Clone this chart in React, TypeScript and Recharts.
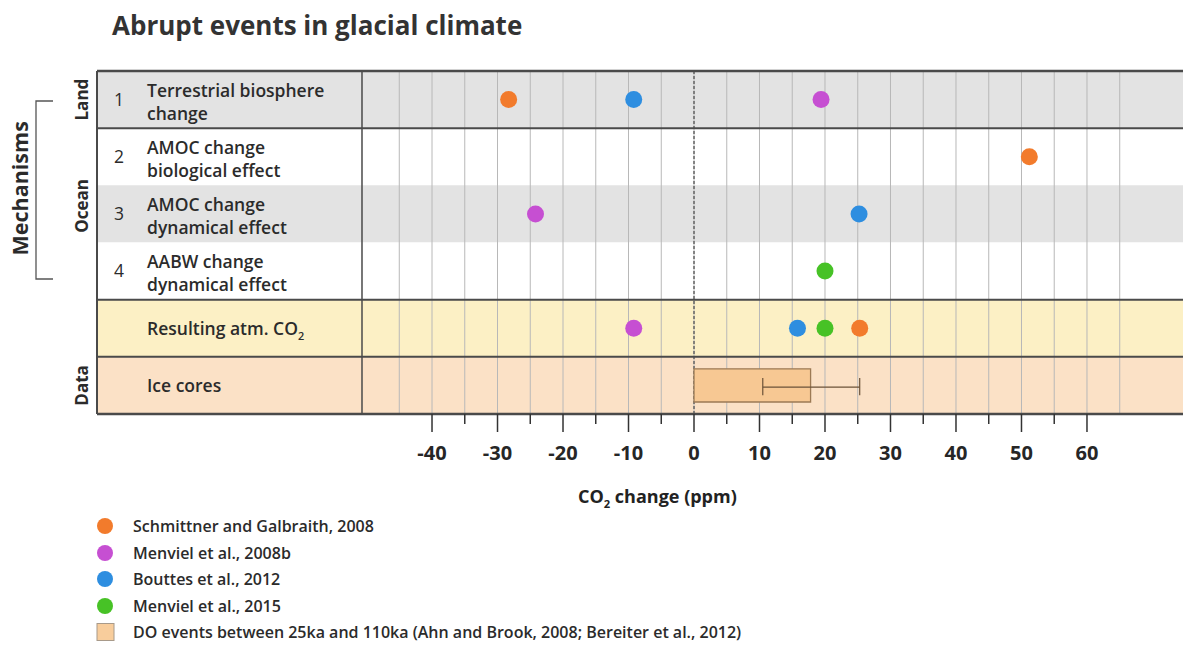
import { ComposedChart, Scatter, XAxis, YAxis, ReferenceArea, ReferenceLine, Legend } from 'recharts';

const FONT = '"Open Sans", "Noto Sans", sans-serif';
const INK = '#2b2b2b';

// rows of the table, top to bottom (row index = y value)
const rowNumbers = ['1', '2', '3', '4', '', ''];
const rowTexts = [
  ['Terrestrial biosphere', 'change'],
  ['AMOC change', 'biological effect'],
  ['AMOC change', 'dynamical effect'],
  ['AABW change', 'dynamical effect'],
  ['Resulting atm. CO₂'],
  ['Ice cores'],
];
const rowFills = ['#e3e3e3', '#ffffff', '#e3e3e3', '#ffffff', '#fcf0c5', '#fbe1c6'];

const groups = [
  { name: 'Land', from: 0, to: 0 },
  { name: 'Ocean', from: 1, to: 3 },
  { name: 'Data', from: 5, to: 5 },
];

// CO2 change (ppm) per model study
const schmittner = [{ co2: -28.3, row: 0 }, { co2: 51.2, row: 1 }, { co2: 25.3, row: 4 }];
const menviel2008 = [{ co2: 19.4, row: 0 }, { co2: -24.2, row: 2 }, { co2: -9.2, row: 4 }];
const bouttes = [{ co2: -9.2, row: 0 }, { co2: 25.2, row: 2 }, { co2: 15.8, row: 4 }];
const menviel2015 = [{ co2: 20.0, row: 3 }, { co2: 20.0, row: 4 }];

const studies = [
  { name: 'Schmittner and Galbraith, 2008', color: '#f27b2c', data: schmittner },
  { name: 'Menviel et al., 2008b', color: '#c64fd2', data: menviel2008 },
  { name: 'Bouttes et al., 2012', color: '#2e8ee0', data: bouttes },
  { name: 'Menviel et al., 2015', color: '#47c226', data: menviel2015 },
];

// ice core data (DO events)
const iceCoreRow = 5;
const iceCoreBox = [0, 17.8];
const iceCoreWhisker = [10.5, 25.3];
const iceCoreLabel = 'DO events between 25ka and 110ka (Ahn and Brook, 2008; Bereiter et al., 2012)';

const gridTicks = [-45, -40, -35, -30, -25, -20, -15, -10, -5, 0, 5, 10, 15, 20, 25, 30, 35, 40, 45, 50, 55, 60, 65];
const axisTicks = [-40, -35, -30, -25, -20, -15, -10, -5, 0, 5, 10, 15, 20, 25, 30, 35, 40, 45, 50, 55, 60];
const labelTicks = [-40, -30, -20, -10, 0, 10, 20, 30, 40, 50, 60];

// x domain covers the label column too
const xMin = -91.15;
const xMax = 74.66;
const labelEdge = -50.69;

const BORDER = '#4a4a4a';
const ROW_FS = 17.5;

function withSub(text: string, size: number) {
  const parts = text.split('₂');
  if (parts.length === 1) return text;
  return (
    <>
      {parts[0]}
      <tspan fontSize={size * 0.62} dy={5}>2</tspan>
      <tspan dy={-5}>{parts[1]}</tspan>
    </>
  );
}

const rowLabel = (i: number) => (props: any) => {
  const { x, y, height } = props.viewBox;
  const cy = y + height / 2;
  const lines = rowTexts[i];
  return (
    <g fontFamily={FONT} fill={INK}>
      <text x={x + 17} y={cy + 6} fontSize={ROW_FS}>{rowNumbers[i]}</text>
      {lines.length === 2 ? (
        <>
          <text x={x + 50} y={cy - 3} fontSize={ROW_FS} fontWeight={600}>{lines[0]}</text>
          <text x={x + 50} y={cy + 20} fontSize={ROW_FS} fontWeight={600}>{lines[1]}</text>
        </>
      ) : (
        <text x={x + 50} y={cy + 7} fontSize={ROW_FS} fontWeight={600}>{withSub(lines[0], ROW_FS)}</text>
      )}
    </g>
  );
};

const groupLabel = (name: string) => (props: any) => {
  const { x, y, height } = props.viewBox;
  const lx = x - 15;
  const ly = y + height / 2 - (name === 'Ocean' ? 8 : 0);
  return (
    <text x={lx} y={ly} transform={`rotate(-90, ${lx}, ${ly})`} textAnchor="middle" dominantBaseline="central"
      fontFamily={FONT} fontSize={17} fontWeight={700} fill={INK}>{name}</text>
  );
};

const mechanismsLabel = (props: any) => {
  const { x, y, height } = props.viewBox;
  const lx = x - 77;
  const ly = y + height / 2 + 3;
  return (
    <g>
      <text x={lx} y={ly} transform={`rotate(-90, ${lx}, ${ly})`} textAnchor="middle" dominantBaseline="central"
        fontFamily={FONT} fontSize={21.5} fontWeight={700} fill={INK}>Mechanisms</text>
      <polyline points={`${x - 44},${y + 30} ${x - 61},${y + 30} ${x - 61},${y + 208} ${x - 44},${y + 208}`}
        fill="none" stroke="#555" strokeWidth={1.3} />
    </g>
  );
};

const renderTick = (props: any) => {
  const { x, y, payload } = props;
  const v = payload.value;
  if (!axisTicks.includes(v)) return <g />;
  const major = labelTicks.includes(v);
  return (
    <g>
      <line x1={x} x2={x} y1={y} y2={y + (major ? 18 : 10)} stroke="#333" strokeWidth={1.5} />
      {major && (
        <text x={x} y={y + 46} textAnchor="middle" fontFamily={FONT} fontSize={20} fontWeight={700} fill="#262626">{v}</text>
      )}
    </g>
  );
};

const renderAxisTitle = (props: any) => {
  const { x, y } = props.viewBox;
  return (
    <text x={x + 481} y={y + 89} fontFamily={FONT} fontSize={18} fontWeight={700} fill="#222">
      {withSub('CO₂ change (ppm)', 18)}
    </text>
  );
};

const renderLegend = () => (
  <div style={{ fontFamily: FONT, fontSize: 16, fontWeight: 600, color: INK }}>
    {studies.map((s) => (
      <div key={s.name} style={{ display: 'flex', alignItems: 'center', height: 26.5 }}>
        <svg width={20} height={20}><circle cx={10} cy={10} r={8} fill={s.color} /></svg>
        <span style={{ marginLeft: 18 }}>{s.name}</span>
      </div>
    ))}
    <div style={{ display: 'flex', alignItems: 'center', height: 26.5 }}>
      <svg width={20} height={20}><rect x={2} y={1.5} width={17} height={17} fill="#f8cd9c" stroke="#a89a8a" /></svg>
      <span style={{ marginLeft: 18 }}>{iceCoreLabel}</span>
    </div>
  </div>
);

export default function App() {
  return (
    <div style={{ position: 'fixed', left: 0, top: 0, width: 1183, height: 664, overflow: 'hidden', background: '#fff' }}>
      <div style={{ position: 'absolute', left: 112, top: 12, fontFamily: FONT, fontSize: 26, fontWeight: 700, color: '#333', lineHeight: '26px', whiteSpace: 'nowrap' }}>
        Abrupt events in glacial climate
      </div>
      <ComposedChart width={1183} height={664} margin={{ top: 71, right: 0, left: 97, bottom: 190 }}>
        <XAxis type="number" dataKey="co2" domain={[xMin, xMax]} allowDataOverflow ticks={gridTicks} interval={0}
          tick={renderTick} tickLine={false} axisLine={false} tickSize={0} tickMargin={0} height={60} label={renderAxisTitle} />
        <YAxis type="number" dataKey="row" domain={[-0.5, 5.5]} reversed hide allowDataOverflow />

        {rowFills.map((fill, i) => (
          <ReferenceArea key={`row${i}`} x1={xMin} x2={xMax} y1={i - 0.5} y2={i + 0.5} fill={fill} fillOpacity={1}
            stroke="none" ifOverflow="visible" zIndex={1} label={rowLabel(i)} />
        ))}
        {groups.map((g) => (
          <ReferenceArea key={g.name} x1={xMin} x2={labelEdge} y1={g.from - 0.5} y2={g.to + 0.5} fill="none"
            stroke="none" ifOverflow="visible" zIndex={1} label={groupLabel(g.name)} />
        ))}
        <ReferenceArea x1={xMin} x2={labelEdge} y1={-0.5} y2={3.5} fill="none" stroke="none" ifOverflow="visible"
          zIndex={1} label={mechanismsLabel} />

        {gridTicks.map((t) => (
          <ReferenceLine key={`g${t}`} x={t} stroke="#b8b8b8" strokeWidth={1} ifOverflow="visible" zIndex={2} />
        ))}
        <ReferenceLine x={0} stroke="#555" strokeWidth={1.3} strokeDasharray="3 2" ifOverflow="visible" zIndex={3} />

        <ReferenceLine y={-0.5} stroke={BORDER} strokeWidth={2.5} ifOverflow="visible" zIndex={4} />
        <ReferenceLine y={0.5} stroke={BORDER} strokeWidth={2} ifOverflow="visible" zIndex={4} />
        <ReferenceLine y={3.5} stroke={BORDER} strokeWidth={2} ifOverflow="visible" zIndex={4} />
        <ReferenceLine y={4.5} stroke={BORDER} strokeWidth={2} ifOverflow="visible" zIndex={4} />
        <ReferenceLine y={5.5} stroke={BORDER} strokeWidth={2.5} ifOverflow="visible" zIndex={4} />
        <ReferenceLine x={xMin} stroke={BORDER} strokeWidth={2} ifOverflow="visible" zIndex={4} />
        <ReferenceLine x={labelEdge} stroke={BORDER} strokeWidth={1.5} ifOverflow="visible" zIndex={4} />

        <ReferenceArea x1={iceCoreBox[0]} x2={iceCoreBox[1]} y1={iceCoreRow - 0.29} y2={iceCoreRow + 0.29}
          fill="#f7c893" fillOpacity={1} stroke="#9c7a55" strokeWidth={1.3} ifOverflow="visible" zIndex={5} />
        <ReferenceLine segment={[{ x: iceCoreWhisker[0], y: iceCoreRow + 0.03 }, { x: iceCoreWhisker[1], y: iceCoreRow + 0.03 }]}
          stroke="#6b5238" strokeWidth={1.2} ifOverflow="visible" zIndex={6} />
        <ReferenceLine segment={[{ x: iceCoreWhisker[0], y: iceCoreRow - 0.13 }, { x: iceCoreWhisker[0], y: iceCoreRow + 0.17 }]}
          stroke="#6b5238" strokeWidth={1.2} ifOverflow="visible" zIndex={6} />
        <ReferenceLine segment={[{ x: iceCoreWhisker[1], y: iceCoreRow - 0.13 }, { x: iceCoreWhisker[1], y: iceCoreRow + 0.17 }]}
          stroke="#6b5238" strokeWidth={1.2} ifOverflow="visible" zIndex={6} />

        {studies.map((s) => (
          <Scatter key={s.name} name={s.name} data={s.data} fill={s.color} isAnimationActive={false}
            shape={(p: any) => <circle cx={p.cx} cy={p.cy} r={8.5} fill={s.color} />} />
        ))}

        <Legend layout="vertical" align="center" verticalAlign="middle" content={renderLegend}
          wrapperStyle={{ left: 95, top: 513, width: 900 }} />
      </ComposedChart>
    </div>
  );
}
